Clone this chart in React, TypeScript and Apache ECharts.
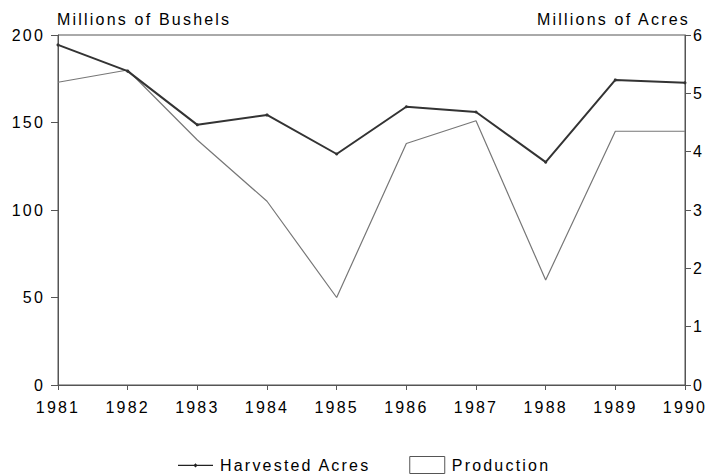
import React, { useEffect, useRef } from "react";
import * as echarts from "echarts";

const years = ["1981", "1982", "1983", "1984", "1985", "1986", "1987", "1988", "1989", "1990"];
const harvestedAcres = [5.83, 5.38, 4.46, 4.63, 3.96, 4.77, 4.68, 3.82, 5.23, 5.18];
const production = [173, 180, 140, 105, 50, 138, 151, 60, 145, 145];
const leftTitle = "Millions of Bushels";
const rightTitle = "Millions of Acres";

const FONT = "'Liberation Sans', Arial, sans-serif";
const TXT = "#000";

export default function App() {
  const ref = useRef<HTMLDivElement>(null);
  useEffect(() => {
    if (!ref.current) return;
    const chart = echarts.init(ref.current, undefined, { renderer: "svg" });
    chart.setOption({
      animation: false,
      backgroundColor: "#ffffff",
      textStyle: { fontFamily: FONT },
      grid: {
        left: 58,
        right: 27,
        top: 35,
        bottom: 89,
        show: true,
        borderColor: "#555",
        borderWidth: 1,
      },
      graphic: [
        {
          type: "text",
          x: 57,
          y: 11,
          style: {
            text: leftTitle,
            fontSize: 16,
            fill: TXT,
            fontFamily: FONT,
            textAlign: "left",
            textVerticalAlign: "top",
          },
        },
        {
          type: "text",
          x: 690,
          y: 11,
          style: {
            text: rightTitle,
            fontSize: 16,
            fill: TXT,
            fontFamily: FONT,
            textAlign: "right",
            textVerticalAlign: "top",
          },
        },
      ],
      legend: {
        top: 456,
        left: 178,
        padding: 0,
        itemWidth: 35,
        itemHeight: 17,
        itemGap: 71,
        textStyle: { fontSize: 16, color: TXT, fontFamily: FONT, padding: [0, 0, 0, 2] },
        data: [
          {
            name: "Harvested Acres",
            icon: "path://M0,0M0,8.2H16L17.5,6.7L19,8.2H35V9.4H19L17.5,10.9L16,9.4H0Z M35,17",
            itemStyle: { color: "#222" },
          },
          {
            name: "Production",
            icon: "rect",
            itemStyle: { color: "#fff", borderColor: "#555", borderWidth: 1 },
          },
        ],
      },
      xAxis: {
        type: "category",
        data: years,
        boundaryGap: false,
        axisLine: { lineStyle: { color: "#555", width: 1 } },
        axisTick: { show: true, alignWithLabel: true, lineStyle: { color: "#555" }, length: 5 },
        axisLabel: { fontSize: 16, color: TXT, margin: 14, fontFamily: FONT },
        splitLine: { show: false },
      },
      yAxis: [
        {
          type: "value",
          min: 0,
          max: 200,
          interval: 50,
          position: "left",
          axisLine: { show: true, lineStyle: { color: "#555", width: 1 } },
          axisTick: { show: true, lineStyle: { color: "#555" }, length: 7 },
          axisLabel: { fontSize: 16, color: TXT, margin: 13, fontFamily: FONT },
          splitLine: { show: false },
        },
        {
          type: "value",
          min: 0,
          max: 6,
          interval: 1,
          position: "right",
          axisLine: { show: true, lineStyle: { color: "#555", width: 1 } },
          axisTick: { show: true, lineStyle: { color: "#555" }, length: 6 },
          axisLabel: { fontSize: 16, color: TXT, margin: 8, fontFamily: FONT },
          splitLine: { show: false },
        },
      ],
      series: [
        {
          name: "Harvested Acres",
          type: "line",
          yAxisIndex: 1,
          data: harvestedAcres,
          symbol: "circle",
          symbolSize: 3,
          lineStyle: { color: "#333", width: 2 },
          itemStyle: { color: "#333" },
          z: 3,
        },
        {
          name: "Production",
          type: "line",
          yAxisIndex: 0,
          data: production,
          symbol: "none",
          lineStyle: { color: "#777", width: 1.2 },
          itemStyle: { color: "#777" },
          z: 2,
        },
      ],
    });
    return () => chart.dispose();
  }, []);
  return (
    <div>
      <style>{"#chartbox text { letter-spacing: 2.2px; }"}</style>
      <div
        id="chartbox"
        ref={ref}
        style={{ width: 712, height: 474, position: "absolute", left: 0, top: 0 }}
      />
    </div>
  );
}
